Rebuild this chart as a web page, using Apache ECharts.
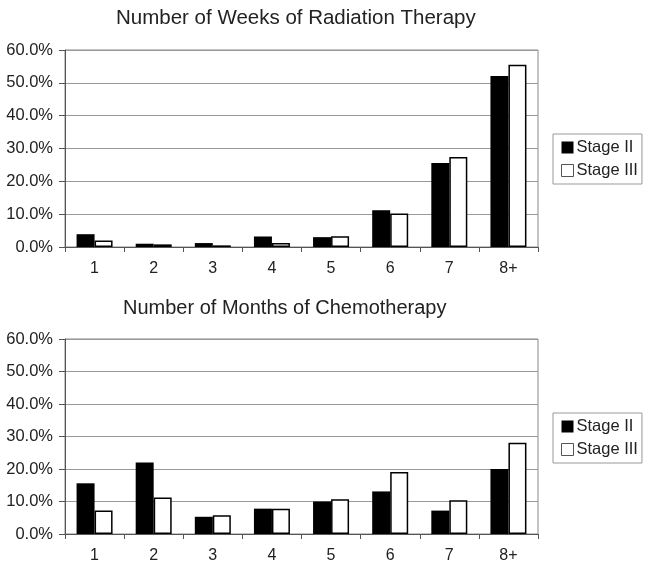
<!DOCTYPE html>
<html>
<head>
<meta charset="utf-8">
<script src="https://cdn.jsdelivr.net/npm/echarts@6/dist/echarts.min.js"></script>
<style>html,body{margin:0;padding:0;background:#fff}#c{width:652px;height:569px}</style>
</head>
<body>
<div id="c"></div>
<script>
const categories = ['1', '2', '3', '4', '5', '6', '7', '8+'];
const radiationStageII = [3.9, 1.0, 1.2, 3.2, 3.0, 11.2, 25.6, 52.1];
const radiationStageIII = [2.0, 0.8, 0.5, 1.2, 3.3, 10.2, 27.4, 55.5];
const chemoStageII = [15.6, 22.0, 5.3, 7.8, 10.0, 13.1, 7.2, 20.0];
const chemoStageIII = [7.2, 11.2, 5.8, 7.8, 10.7, 19.1, 10.4, 28.1];
const titles = ['Number of Weeks of Radiation Therapy', 'Number of Months of Chemotherapy'];
const seriesNames = ['Stage II', 'Stage III'];

const font = 'Liberation Sans, Arial, sans-serif';
const chart = echarts.init(document.getElementById('c'));

function xAxis(idx) {
  return {
    type: 'category', gridIndex: idx, data: categories,
    axisLine: { lineStyle: { color: '#555', width: 1 } },
    axisTick: { show: true, length: 5, lineStyle: { color: '#555' } },
    axisLabel: { color: '#222', fontSize: 16, fontFamily: font, margin: 14 }
  };
}
function yAxis(idx) {
  return {
    type: 'value', gridIndex: idx, min: 0, max: 60, interval: 10,
    axisLine: { show: true, lineStyle: { color: '#555' } },
    axisTick: { show: true, length: 6, lineStyle: { color: '#555' } },
    splitLine: { lineStyle: { color: '#999', width: 1 } },
    axisLabel: { color: '#222', fontSize: 16.5, fontFamily: font, margin: 12,
      formatter: v => v.toFixed(1) + '%' }
  };
}
function bar(name, data, idx, white) {
  return {
    type: 'bar', name: name, data: data, xAxisIndex: idx, yAxisIndex: idx,
    barWidth: 18, barGap: '0%',
    itemStyle: white ? { color: '#fff', borderColor: '#000', borderWidth: 1.5 } : { color: '#000' },
    emphasis: { disabled: true }
  };
}
function legend(top) {
  return {
    orient: 'vertical', left: 553, top: top,
    data: [
      { name: seriesNames[0], itemStyle: { color: '#000', borderWidth: 0 } },
      { name: seriesNames[1], itemStyle: { color: '#fff', borderColor: '#555', borderWidth: 1 } }
    ],
    itemWidth: 12, itemHeight: 12, itemGap: 6, icon: 'rect',
    borderColor: '#999', borderWidth: 1, borderRadius: 0,
    padding: [5, 4, 5, 8],
    textStyle: { fontSize: 16.5, fontFamily: font, color: '#222', padding: [0, 0, 0, -2] },
    selectedMode: false
  };
}

chart.setOption({
  animation: false,
  title: [
    { text: titles[0], left: 111, top: 3, textStyle: { fontSize: 20.5, fontWeight: 'normal', fontFamily: font, color: '#222' } },
    { text: titles[1], left: 118, top: 293, textStyle: { fontSize: 20, fontWeight: 'normal', fontFamily: font, color: '#222' } }
  ],
  legend: [legend(134), legend(413)],
  grid: [
    { left: 65, top: 50, width: 473, height: 197, show: true, borderColor: '#888', borderWidth: 1 },
    { left: 65, top: 339, width: 473, height: 195, show: true, borderColor: '#888', borderWidth: 1 }
  ],
  xAxis: [xAxis(0), xAxis(1)],
  yAxis: [yAxis(0), yAxis(1)],
  series: [
    bar(seriesNames[0], radiationStageII, 0, false),
    bar(seriesNames[1], radiationStageIII, 0, true),
    bar(seriesNames[0], chemoStageII, 1, false),
    bar(seriesNames[1], chemoStageIII, 1, true)
  ]
});
</script>
</body>
</html>
